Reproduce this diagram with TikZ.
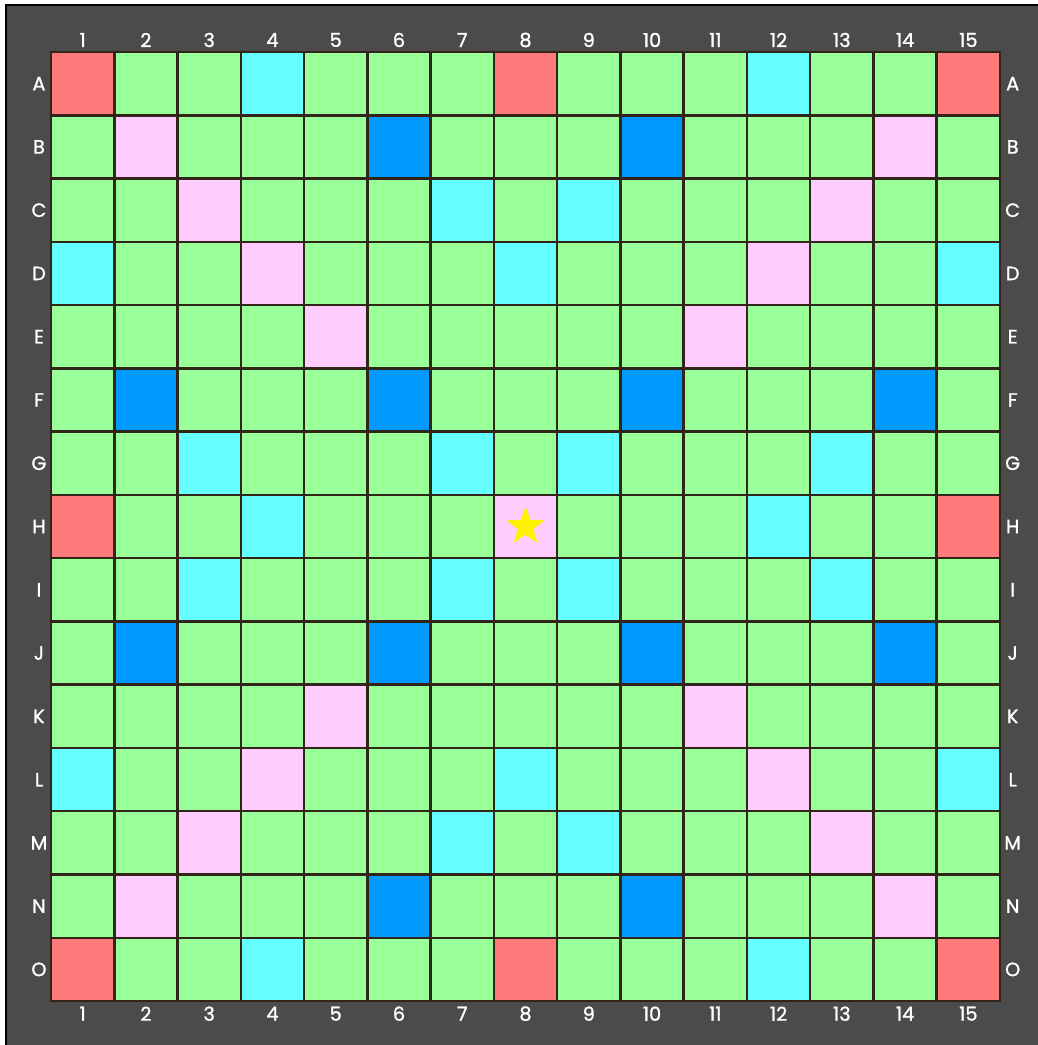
\documentclass[tikz,border=0pt]{standalone}
\usepackage{fontspec}
\setmainfont{Poppins}
\newfontfamily\boardfont[FakeBold=1.2]{Poppins}
\usetikzlibrary{shapes.geometric}
\definecolor{boardbg}{HTML}{4B4B4B}
\definecolor{gridbrown}{HTML}{33241A}
\definecolor{plainsq}{HTML}{99FF99}
\definecolor{tripleword}{HTML}{FF7B7B}
\definecolor{doubleword}{HTML}{FFCCFF}
\definecolor{tripleletter}{HTML}{0099FF}
\definecolor{doubleletter}{HTML}{66FFFF}
\begin{document}
\begin{tikzpicture}[
  x=1.5cm, y=-1.5cm,
  gridline/.style={draw=gridbrown, line width=1.7pt},
  coordlabel/.style={text=white, inner sep=0pt, font=\boardfont\fontsize{13}{15}\selectfont},
  centrestar/.style={star, star points=5, star point ratio=2.4, fill=yellow, inner sep=0pt, minimum size=0.95cm},
]
  \useasboundingbox (-0.806,-0.822) rectangle (15.600,15.695);
  \fill[white] (-0.806,-0.822) rectangle (15.600,15.695);
  \begin{scope}
    \clip (-0.806,-0.822) rectangle (15.600,15.695);
    \filldraw[fill=boardbg, draw=black, line width=0.8pt] (-0.711,-0.743) rectangle (16,16);
  \end{scope}

  % board squares
  \fill[plainsq] (0,0) rectangle (15,15);
  \foreach \c/\r in {1/1,8/1,15/1,1/8,15/8,1/15,8/15,15/15}
    \fill[tripleword] (\c-1,\r-1) rectangle ++(1,1);
  \foreach \c/\r in {2/2,3/3,4/4,5/5,5/11,4/12,3/13,2/14,14/2,13/3,12/4,11/5,11/11,12/12,13/13,14/14,8/8}
    \fill[doubleword] (\c-1,\r-1) rectangle ++(1,1);
  \foreach \c/\r in {6/2,10/2,2/6,6/6,10/6,14/6,2/10,6/10,10/10,14/10,6/14,10/14}
    \fill[tripleletter] (\c-1,\r-1) rectangle ++(1,1);
  \foreach \c/\r in {4/1,12/1,7/3,9/3,1/4,8/4,15/4,3/7,7/7,9/7,13/7,4/8,12/8,
                     3/9,7/9,9/9,13/9,1/12,8/12,15/12,7/13,9/13,4/15,12/15}
    \fill[doubleletter] (\c-1,\r-1) rectangle ++(1,1);
  \foreach \k in {1,...,14} {
    \draw[gridline] (\k,0) -- (\k,15);
    \draw[gridline] (0,\k) -- (15,\k);
  }
  \draw[gridline] (0,0) rectangle (15,15);

  \node[centrestar] (star) at (7.5,7.5) {};

  % column numbers and row letters
  \foreach \n in {1,...,15} {
    \node[coordlabel] (coltop\n) at (\n-0.5,-0.19) {\n};
    \node[coordlabel] (colbot\n) at (\n-0.5,15.2) {\n};
  }
  \foreach \l [count=\i] in {A,B,C,D,E,F,G,H,I,J,K,L,M,N,O} {
    \node[coordlabel] (rowleft\l) at (-0.19,\i-0.5) {\l};
    \node[coordlabel] (rowright\l) at (15.2,\i-0.5) {\l};
  }
\end{tikzpicture}
\end{document}
